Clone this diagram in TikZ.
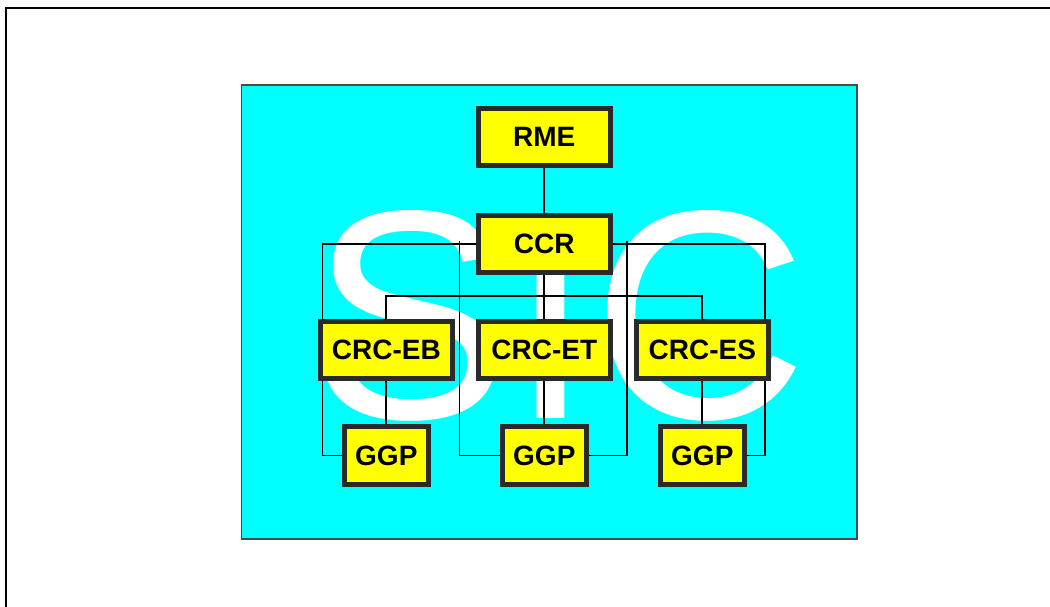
\documentclass[tikz,border=0pt]{standalone}
\usepackage{fontspec}
\setmainfont{Liberation Sans}
\definecolor{panelcyan}{HTML}{00FFFF}
\definecolor{boxyellow}{HTML}{FFFF00}
\definecolor{boxgray}{HTML}{2A2A2A}
\definecolor{panelline}{HTML}{4A4A4A}
\pgfdeclarelayer{back}
\pgfdeclarelayer{mid}
\pgfsetlayers{back,mid,main}
\begin{document}
\begin{tikzpicture}[x=1pt,y=-1pt,
  box/.style={draw=boxgray, line width=5pt, fill=boxyellow, inner sep=0pt,
    font=\fontsize{28}{30}\selectfont\bfseries, text=black},
  widebox/.style={box, minimum width=131.5pt, minimum height=57pt},
  smallbox/.style={box, minimum width=83.5pt, minimum height=58pt},
  wire/.style={draw=black, line width=1.7pt},
  watermark/.style={font=\fontsize{298}{300}\selectfont, text=white, inner sep=0pt, anchor=base}]
\useasboundingbox (0,0) rectangle (1050,607);
% outer frame (only top and left edges fall inside the page)
\draw[line width=2.2pt, black] (5.7,620) -- (5.7,8.3) -- (1060,8.3);

% boxes
\node[widebox] (RME) at (544.3,137) {RME};
\node[widebox] (CCR) at (544.3,244) {CCR};
\node[widebox] (EB)  at (386.3,350) {CRC-EB};
\node[widebox] (ET)  at (544.3,350) {CRC-ET};
\node[widebox] (ES)  at (702.3,350) {CRC-ES};
\node[smallbox] (G1) at (386.3,455.5) {GGP};
\node[smallbox] (G2) at (544.3,455.5) {GGP};
\node[smallbox] (G3) at (702.3,455.5) {GGP};

\begin{pgfonlayer}{back}
  \draw[fill=panelcyan, draw=panelline, line width=1.4pt] (241.5,85) rectangle (857,539);
  \node[watermark] (sic) at (559,418) {SIC};
\end{pgfonlayer}

\begin{pgfonlayer}{mid}
  \coordinate (ml) at (459.5,241);
  \coordinate (mr) at (627.3,241);
  \coordinate (bus) at (544.3,296);
  \draw[wire] (RME.south) -- (CCR.north);
  \draw[wire] (CCR.south) -- (ET.north);
  \draw[wire] (CCR.west) -| ([xshift=4.5pt]EB.north west);
  \draw[wire] (CCR.east) -| ([xshift=-5.5pt]ES.north east);
  \draw[wire] (EB.north) |- (bus) -| (ES.north);
  \draw[wire] (ml) |- (G2.west);
  \draw[wire] (mr) |- (G2.east);
  \draw[wire] (EB.south) -- (G1.north);
  \draw[wire] (ET.south) -- (G2.north);
  \draw[wire] (ES.south) -- (G3.north);
  \draw[wire] ([xshift=4.5pt]EB.south west) |- (G1.west);
  \draw[wire] ([xshift=-5.5pt]ES.south east) |- (G3.east);
\end{pgfonlayer}
\end{tikzpicture}
\end{document}
